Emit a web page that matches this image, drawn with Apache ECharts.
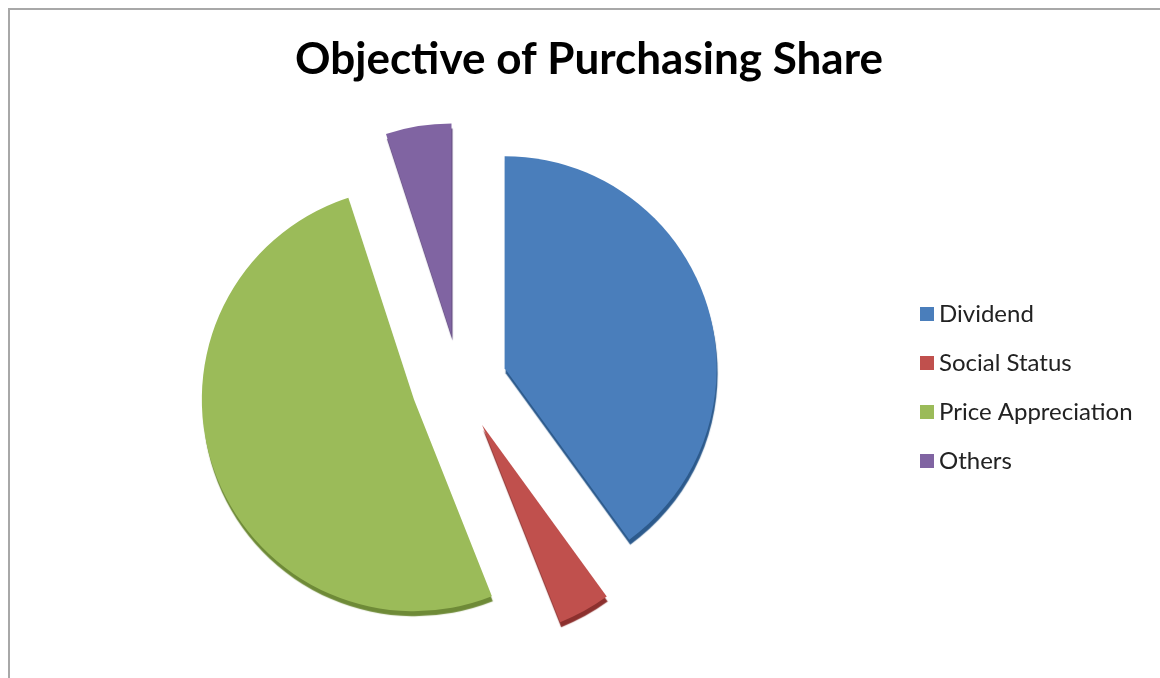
<!DOCTYPE html>
<html><head><meta charset="utf-8">
<script src="https://cdn.jsdelivr.net/npm/echarts@6/dist/echarts.min.js"></script>
<style>html,body{margin:0;padding:0;background:#fff}#c{width:1160px;height:678px}
#frame{position:absolute;left:8px;top:8px;width:1160px;height:680px;border-left:2px solid #a8a8a8;border-top:2px solid #a8a8a8;pointer-events:none}</style>
</head><body><div id="c"></div><div id="frame"></div>
<script>
const titleText = "Objective of Purchasing Share";
const categories = ["Dividend", "Social Status", "Price Appreciation", "Others"];
const values = [40, 4, 51, 5];
const colors = ["#4a7ebb", "#c0504d", "#9bbb59", "#8064a2"];
const edgeColors = ["#2c5a8c", "#8c302e", "#6e8a37", "#5a4378"];

const chart = echarts.init(document.getElementById('c'));
chart.setOption({
  animation: false,
  backgroundColor: '#fff',
  title: { text: titleText, left: 584, top: 33, textAlign: 'center',
    textStyle: { fontFamily: 'Lato', fontWeight: 'bold', fontSize: 44, color: '#000' } },
  legend: {
    orient: 'vertical', left: 915, top: 297, itemWidth: 14, itemHeight: 14, itemGap: 25,
    icon: 'rect', selectedMode: false,
    textStyle: { fontFamily: 'Lato', fontSize: 24, color: '#222', padding: [0,0,0,0] },
    data: categories
  },
  series: [{
    type: 'pie', center: [459, 383], radius: 212, startAngle: 90, clockwise: true,
    selectedMode: 'multiple', selectedOffset: 48,
    label: { show: false }, labelLine: { show: false },
    emphasis: { disabled: true },
    data: categories.map((n, i) => ({
      name: n, value: values[i], selected: true,
      itemStyle: { color: colors[i], shadowColor: edgeColors[i], shadowOffsetY: 5, shadowOffsetX: 1, shadowBlur: 1 }
    }))
  }]
});
</script></body></html>
